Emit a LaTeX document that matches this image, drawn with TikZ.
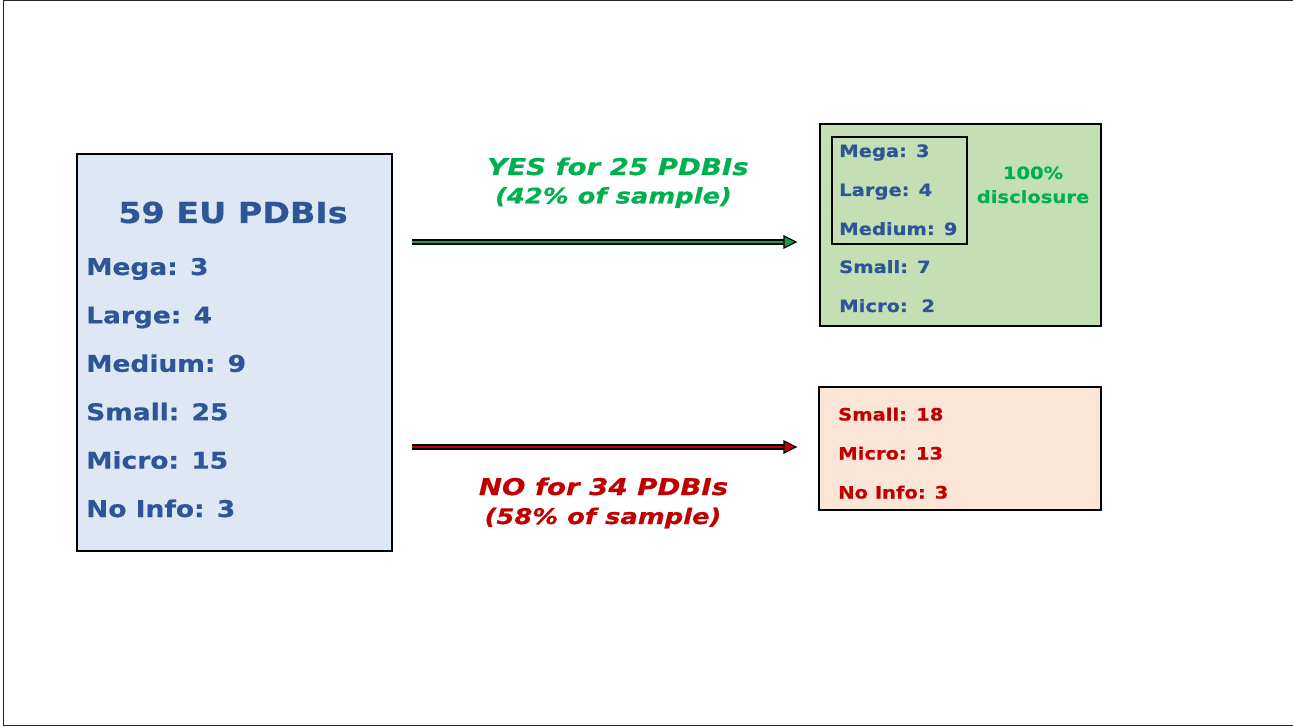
\documentclass[tikz,border=0pt]{standalone}
\usepackage{fontspec}
\usetikzlibrary{calc}
\setmainfont{DejaVu Sans}[BoldFeatures={FakeStretch=1.15,FakeBold=0.6},BoldItalicFeatures={FakeStretch=1.2,FakeBold=0.6}]
\definecolor{txtblue}{HTML}{2E5597}
\definecolor{txtred}{HTML}{C00000}
\definecolor{txtgreen}{HTML}{00B050}
\definecolor{boxblue}{HTML}{DDE8F4}
\definecolor{boxgreen}{HTML}{C4DFB4}
\definecolor{boxred}{HTML}{FBE5D6}
\definecolor{arrgreen}{HTML}{1E9A4A}
\begin{document}
\begin{tikzpicture}[x=1pt,y=-1pt,
  panel/.style={draw=black,line width=1.8pt},
  bigtitle/.style={anchor=base,inner sep=0pt,font=\bfseries\fontsize{29}{34}\selectfont,text=txtblue},
  leftitem/.style={anchor=base west,inner sep=0pt,font=\bfseries\fontsize{23}{28}\selectfont,text=txtblue},
  rightitem/.style={anchor=base west,inner sep=0pt,font=\bfseries\fontsize{17}{20}\selectfont},
  mainlabel/.style={anchor=base,inner sep=0pt,font=\bfseries\itshape\fontsize{23}{26}\selectfont},
  sublabel/.style={anchor=base,inner sep=0pt,font=\bfseries\itshape\fontsize{21.5}{24}\selectfont},
  shaft/.style={line width=5.5pt,draw=black},
  core/.style={line width=2.2pt},
]
\useasboundingbox (0,0) rectangle (1293,727);
% outer frame (top, left and bottom rules)
\draw[line width=1pt,black!85] (1293,1) -- (3,1) -- (3,725) -- (1293,725);

% source panel
\node[panel,fill=boxblue,minimum width=315,minimum height=397,anchor=north west,inner sep=0pt] (src) at (76,153) {};
\node[bigtitle] (title) at (233,223) {59 EU PDBIs};
\node[leftitem] (l1) at (86,275) {Mega: 3};
\node[leftitem] (l2) at (86,323.4) {Large: 4};
\node[leftitem] (l3) at (86,371.8) {Medium: 9};
\node[leftitem] (l4) at (86,420.2) {Small: 25};
\node[leftitem] (l5) at (86,468.6) {Micro: 15};
\node[leftitem] (l6) at (86,517) {No Info: 3};

% disclosing panel
\node[panel,fill=boxgreen,minimum width=281,minimum height=202,anchor=north west,inner sep=0pt] (yesbox) at (819,123) {};
\node[draw=black,line width=1.6pt,minimum width=135,minimum height=107,anchor=north west,inner sep=0pt] (inner) at (831,136) {};
\node[rightitem,text=txtblue] (g1) at (839,157) {Mega: 3};
\node[rightitem,text=txtblue] (g2) at (839,196) {Large: 4};
\node[rightitem,text=txtblue] (g3) at (839,235) {Medium: 9};
\node[rightitem,text=txtblue] (g4) at (839,273) {Small: 7};
\node[rightitem,text=txtblue] (g5) at (839,312) {Micro:\ \ 2};
\node[font=\bfseries\fontsize{17}{20}\selectfont,text=txtgreen,anchor=base,inner sep=0pt] (full1) at (1033,179) {100\%};
\node[font=\bfseries\fontsize{17}{20}\selectfont,text=txtgreen,anchor=base,inner sep=0pt] (full2) at (1033,203) {disclosure};

% non-disclosing panel
\node[panel,fill=boxred,minimum width=282,minimum height=123,anchor=north west,inner sep=0pt] (nobox) at (818,386) {};
\node[rightitem,text=txtred] (r1) at (838,420.5) {Small: 18};
\node[rightitem,text=txtred] (r2) at (838,459.5) {Micro: 13};
\node[rightitem,text=txtred] (r3) at (838,498.5) {No Info: 3};

% arrow labels
\node[mainlabel,text=txtgreen] (yeslab) at (618,175) {YES for 25 PDBIs};
\node[sublabel,text=txtgreen] (yessub) at (613.5,203.5) {(42\% of sample)};
\node[mainlabel,text=txtred] (nolab) at (603.5,495) {NO for 34 PDBIs};
\node[sublabel,text=txtred] (nosub) at (603,524) {(58\% of sample)};

% arrows
\coordinate (ya) at (412,242);
\coordinate (yb) at (784,242);
\coordinate (yt) at (796,242);
\coordinate (na) at (412,447);
\coordinate (nb) at (784,447);
\coordinate (nt) at (796,447);
\draw[shaft] (ya) -- (yb);
\draw[core,draw=arrgreen] (ya) -- (yb);
\filldraw[fill=arrgreen,draw=black,line width=1.3pt,line join=miter] (yt) -- ($(yb)+(0,-6)$) -- ($(yb)+(0,6)$) -- cycle;
\draw[shaft] (na) -- (nb);
\draw[core,draw=txtred] (na) -- (nb);
\filldraw[fill=txtred,draw=black,line width=1.3pt,line join=miter] (nt) -- ($(nb)+(0,-6)$) -- ($(nb)+(0,6)$) -- cycle;
\end{tikzpicture}
\end{document}
